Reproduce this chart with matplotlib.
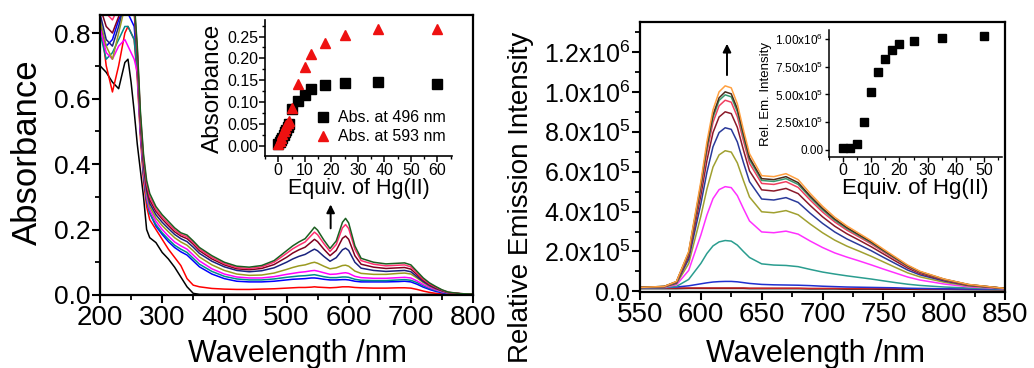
import matplotlib
matplotlib.use("Agg")
import matplotlib.pyplot as plt
from matplotlib.ticker import MultipleLocator, FixedLocator, FormatStrFormatter

plt.rcParams['font.family'] = ['Liberation Sans', 'DejaVu Sans']
plt.rcParams['mathtext.fontset'] = 'custom'
plt.rcParams['mathtext.rm'] = 'Liberation Sans'
plt.rcParams['mathtext.it'] = 'Liberation Sans'

# ---------------- Left: absorption spectra ----------------
wl_abs = [200, 210, 220, 230, 240, 245, 250, 255, 260, 265, 270, 275, 280, 290, 300,
          310, 320, 330, 340, 350, 360, 380, 400, 420, 440, 460, 480, 500, 510, 520,
          530, 540, 545, 550, 560, 570, 580, 590, 595, 600, 610, 620, 640, 660, 680,
          690, 700, 710, 720, 730, 740, 750, 760, 780, 800]

abs_black = [0.70, 0.68, 0.65, 0.63, 0.71, 0.72, 0.65, 0.56, 0.46, 0.38, 0.30, 0.20, 0.175, 0.16, 0.13,
             0.11, 0.085, 0.055, 0.025, 0.005, 0.002, 0.002, 0.002, 0.002, 0.002, 0.002, 0.002, 0.002, 0.002, 0.002,
             0.002, 0.002, 0.002, 0.002, 0.002, 0.002, 0.002, 0.002, 0.002, 0.002, 0.002, 0.002, 0.002, 0.002, 0.002,
             0.002, 0.002, 0.002, 0.002, 0.002, 0.002, 0.002, 0.002, 0.002, 0.002]
abs_red = [0.85, 0.70, 0.62, 0.70, 0.80, 0.82, 0.80, 0.78, 0.66, 0.48, 0.35, 0.27, 0.23, 0.20, 0.17,
           0.14, 0.115, 0.09, 0.05, 0.03, 0.025, 0.02, 0.018, 0.017, 0.017, 0.018, 0.019, 0.021, 0.022, 0.023,
           0.023, 0.024, 0.025, 0.024, 0.023, 0.022, 0.023, 0.025, 0.025, 0.025, 0.023, 0.022, 0.021, 0.021, 0.022,
           0.022, 0.021, 0.017, 0.012, 0.008, 0.005, 0.003, 0.002, 0.001, 0.001]
abs_blue = [0.82, 0.76, 0.78, 0.84, 0.88, 0.86, 0.84, 0.82, 0.70, 0.50, 0.37, 0.29, 0.25, 0.21, 0.185,
            0.163, 0.145, 0.132, 0.122, 0.104, 0.086, 0.064, 0.05, 0.042, 0.04, 0.04, 0.042, 0.046, 0.048, 0.049,
            0.05, 0.052, 0.052, 0.051, 0.048, 0.046, 0.046, 0.047, 0.047, 0.046, 0.042, 0.04, 0.04, 0.04, 0.041,
            0.042, 0.04, 0.033, 0.024, 0.017, 0.011, 0.007, 0.004, 0.003, 0.002]
abs_cyan = [0.80, 0.72, 0.74, 0.78, 0.82, 0.82, 0.80, 0.78, 0.68, 0.50, 0.37, 0.29, 0.25, 0.215, 0.19,
            0.17, 0.152, 0.14, 0.13, 0.112, 0.094, 0.072, 0.057, 0.049, 0.046, 0.046, 0.049, 0.054, 0.056, 0.058,
            0.059, 0.061, 0.062, 0.06, 0.056, 0.053, 0.053, 0.055, 0.055, 0.054, 0.048, 0.045, 0.044, 0.044, 0.046,
            0.047, 0.045, 0.038, 0.028, 0.02, 0.014, 0.009, 0.005, 0.003, 0.002]
abs_magenta = [0.82, 0.74, 0.72, 0.76, 0.78, 0.76, 0.74, 0.72, 0.68, 0.50, 0.38, 0.30, 0.26, 0.225, 0.20,
               0.18, 0.162, 0.15, 0.14, 0.122, 0.104, 0.08, 0.064, 0.055, 0.052, 0.052, 0.056, 0.063, 0.066, 0.069,
               0.071, 0.074, 0.075, 0.073, 0.068, 0.063, 0.064, 0.067, 0.068, 0.066, 0.057, 0.053, 0.051, 0.051, 0.053,
               0.054, 0.052, 0.043, 0.032, 0.023, 0.016, 0.01, 0.006, 0.003, 0.002]
abs_olive = [0.84, 0.76, 0.72, 0.80, 0.88, 0.92, 0.90, 0.86, 0.72, 0.52, 0.39, 0.31, 0.27, 0.235, 0.212,
             0.193, 0.175, 0.162, 0.152, 0.135, 0.116, 0.092, 0.075, 0.064, 0.06, 0.061, 0.067, 0.078, 0.084, 0.089,
             0.092, 0.098, 0.10, 0.097, 0.088, 0.08, 0.083, 0.09, 0.091, 0.088, 0.073, 0.066, 0.063, 0.063, 0.066,
             0.067, 0.064, 0.052, 0.038, 0.027, 0.019, 0.012, 0.007, 0.004, 0.003]
abs_navy = [0.86, 0.78, 0.76, 0.82, 0.90, 0.93, 0.91, 0.87, 0.73, 0.53, 0.40, 0.32, 0.28, 0.245, 0.222,
            0.203, 0.185, 0.172, 0.163, 0.146, 0.127, 0.103, 0.086, 0.075, 0.071, 0.074, 0.083, 0.10, 0.11, 0.118,
            0.124, 0.135, 0.14, 0.135, 0.118, 0.103, 0.114, 0.138, 0.143, 0.136, 0.10, 0.082, 0.075, 0.072, 0.074,
            0.075, 0.071, 0.056, 0.041, 0.029, 0.02, 0.013, 0.007, 0.004, 0.003]
abs_wine = [0.88, 0.82, 0.80, 0.85, 0.93, 0.95, 0.92, 0.88, 0.74, 0.54, 0.41, 0.33, 0.29, 0.255, 0.232,
            0.212, 0.193, 0.18, 0.172, 0.155, 0.135, 0.11, 0.092, 0.08, 0.077, 0.081, 0.093, 0.115, 0.128, 0.138,
            0.146, 0.162, 0.17, 0.163, 0.14, 0.12, 0.136, 0.173, 0.18, 0.17, 0.12, 0.094, 0.085, 0.081, 0.083,
            0.084, 0.079, 0.062, 0.045, 0.032, 0.022, 0.014, 0.008, 0.004, 0.003]
abs_pink = [0.90, 0.86, 0.84, 0.88, 0.95, 0.96, 0.93, 0.89, 0.75, 0.55, 0.42, 0.34, 0.30, 0.262, 0.238,
            0.218, 0.199, 0.185, 0.178, 0.16, 0.14, 0.115, 0.096, 0.084, 0.081, 0.086, 0.10, 0.127, 0.141, 0.152,
            0.162, 0.182, 0.192, 0.184, 0.157, 0.133, 0.154, 0.205, 0.215, 0.203, 0.14, 0.105, 0.094, 0.089, 0.091,
            0.092, 0.086, 0.067, 0.048, 0.034, 0.024, 0.015, 0.008, 0.004, 0.003]
abs_green = [0.92, 0.90, 0.89, 0.92, 0.96, 0.96, 0.94, 0.90, 0.76, 0.56, 0.43, 0.35, 0.31, 0.27, 0.245,
             0.225, 0.205, 0.19, 0.183, 0.165, 0.145, 0.12, 0.10, 0.088, 0.085, 0.09, 0.105, 0.135, 0.15, 0.162,
             0.172, 0.195, 0.207, 0.198, 0.168, 0.142, 0.165, 0.222, 0.234, 0.22, 0.15, 0.112, 0.10, 0.095, 0.097,
             0.098, 0.092, 0.072, 0.052, 0.037, 0.026, 0.016, 0.009, 0.004, 0.003]

abs_series = [abs_black, abs_red, abs_blue, abs_cyan, abs_magenta, abs_olive,
              abs_navy, abs_wine, abs_pink, abs_green]
abs_colors = ['#000000', '#ff0000', '#0000ff', '#008b8b', '#ff00ff', '#9a9a20',
              '#1a237e', '#800020', '#ff3070', '#1b5e20']

# Left inset: absorbance vs equivalents
eq_abs = [0, 0.5, 1, 1.5, 2, 2.5, 3, 3.5, 4, 5, 7.5, 10, 12.5, 17.5, 25, 37.5, 60]
abs496 = [0.003, 0.008, 0.013, 0.018, 0.024, 0.03, 0.036, 0.043, 0.05, 0.083, 0.103,
          0.116, 0.13, 0.139, 0.144, 0.146, 0.141]
abs593 = [0.003, 0.01, 0.018, 0.026, 0.033, 0.04, 0.046, 0.052, 0.057, 0.086, 0.141,
          0.18, 0.21, 0.235, 0.253, 0.268, 0.268]

# ---------------- Right: emission spectra (units of 1e6) ----------------
wl_em = [550, 570, 580, 590, 600, 605, 610, 615, 620, 625, 630, 635, 640, 650, 660,
         670, 680, 690, 700, 710, 720, 730, 740, 750, 760, 770, 780, 800, 820, 850]

em_black = [0.014, 0.014, 0.014, 0.015, 0.015, 0.015, 0.015, 0.015, 0.015, 0.015, 0.015, 0.015, 0.014, 0.014, 0.014,
            0.014, 0.014, 0.013, 0.013, 0.013, 0.012, 0.012, 0.012, 0.011, 0.011, 0.011, 0.01, 0.01, 0.009, 0.008]
em_red = [0.016, 0.016, 0.017, 0.017, 0.017, 0.017, 0.017, 0.017, 0.017, 0.017, 0.017, 0.017, 0.016, 0.016, 0.016,
          0.016, 0.016, 0.015, 0.015, 0.015, 0.014, 0.014, 0.014, 0.013, 0.013, 0.013, 0.012, 0.012, 0.011, 0.01]
em_blue = [0.018, 0.019, 0.022, 0.028, 0.038, 0.043, 0.047, 0.049, 0.05, 0.05, 0.048, 0.044, 0.04, 0.035, 0.033,
           0.032, 0.031, 0.029, 0.026, 0.024, 0.022, 0.021, 0.02, 0.019, 0.018, 0.016, 0.015, 0.013, 0.012, 0.011]
em_cyan = [0.018, 0.019, 0.025, 0.06, 0.14, 0.19, 0.228, 0.248, 0.255, 0.252, 0.232, 0.20, 0.17, 0.138, 0.132,
           0.13, 0.124, 0.11, 0.097, 0.087, 0.078, 0.07, 0.062, 0.053, 0.044, 0.036, 0.03, 0.022, 0.017, 0.012]
em_magenta = [0.02, 0.021, 0.033, 0.105, 0.282, 0.383, 0.465, 0.51, 0.525, 0.52, 0.48, 0.415, 0.353, 0.298, 0.294,
              0.302, 0.287, 0.252, 0.22, 0.193, 0.172, 0.153, 0.133, 0.112, 0.092, 0.072, 0.057, 0.037, 0.023, 0.013]
em_olive = [0.02, 0.022, 0.038, 0.139, 0.377, 0.513, 0.623, 0.684, 0.705, 0.698, 0.644, 0.556, 0.473, 0.399, 0.394,
            0.405, 0.384, 0.337, 0.294, 0.257, 0.227, 0.202, 0.176, 0.148, 0.12, 0.093, 0.073, 0.046, 0.027, 0.014]
em_navy = [0.02, 0.023, 0.042, 0.161, 0.438, 0.597, 0.725, 0.796, 0.82, 0.812, 0.749, 0.646, 0.55, 0.463, 0.458,
           0.47, 0.446, 0.391, 0.341, 0.298, 0.263, 0.234, 0.204, 0.171, 0.139, 0.107, 0.083, 0.052, 0.03, 0.015]
em_wine = [0.02, 0.024, 0.045, 0.176, 0.481, 0.656, 0.796, 0.874, 0.90, 0.891, 0.822, 0.709, 0.604, 0.509, 0.503,
           0.516, 0.49, 0.43, 0.374, 0.327, 0.289, 0.257, 0.224, 0.188, 0.152, 0.117, 0.09, 0.056, 0.031, 0.015]
em_pink = [0.02, 0.024, 0.047, 0.187, 0.512, 0.698, 0.847, 0.93, 0.958, 0.948, 0.875, 0.755, 0.642, 0.541, 0.536,
           0.55, 0.521, 0.457, 0.398, 0.348, 0.307, 0.273, 0.238, 0.199, 0.161, 0.124, 0.095, 0.059, 0.033, 0.015]
em_teal = [0.02, 0.025, 0.048, 0.192, 0.527, 0.718, 0.871, 0.957, 0.985, 0.975, 0.90, 0.776, 0.66, 0.556, 0.551,
           0.565, 0.536, 0.47, 0.409, 0.357, 0.315, 0.28, 0.244, 0.204, 0.165, 0.127, 0.098, 0.06, 0.034, 0.015]
em_dark = [0.02, 0.025, 0.049, 0.195, 0.535, 0.73, 0.885, 0.97, 1.0, 0.99, 0.915, 0.79, 0.67, 0.565, 0.56,
           0.575, 0.545, 0.477, 0.416, 0.363, 0.32, 0.284, 0.248, 0.207, 0.168, 0.129, 0.099, 0.061, 0.034, 0.015]
em_orange = [0.02, 0.025, 0.05, 0.20, 0.55, 0.75, 0.91, 1.0, 1.03, 1.02, 0.94, 0.81, 0.69, 0.58, 0.575,
             0.59, 0.56, 0.49, 0.427, 0.372, 0.328, 0.291, 0.254, 0.212, 0.172, 0.132, 0.101, 0.062, 0.035, 0.015]

em_series = [em_black, em_red, em_blue, em_cyan, em_magenta, em_olive, em_navy,
             em_wine, em_pink, em_teal, em_dark, em_orange]
em_colors = ['#000000', '#cc2222', '#2030d0', '#2a9d8f', '#ff30ff', '#a0a030', '#2a3a9a',
             '#8b1a2a', '#f04060', '#3a9a70', '#4a2a1a', '#ffa040']
em_scale = 1e6

# Right inset: relative emission vs equivalents
eq_em = [0, 2.5, 5, 7.5, 10, 12.5, 15, 17.5, 20, 25, 35, 50]
rel_em = [0.015e6, 0.015e6, 0.05e6, 0.25e6, 0.525e6, 0.705e6, 0.82e6, 0.90e6,
          0.958e6, 0.985e6, 1.006e6, 1.03e6]

# ---------------- Figure ----------------
W, H = 1034, 368
fig = plt.figure(figsize=(W / 100, H / 100), dpi=100)


def frac(x0, y0, x1, y1):
    return [x0 / W, 1 - y1 / H, (x1 - x0) / W, (y1 - y0) / H]


def style_main(ax):
    for s in ax.spines.values():
        s.set_linewidth(1.6)
    ax.tick_params(which='major', direction='out', length=6, width=1.5, labelsize=20,
                   top=False, right=False, pad=1)
    ax.tick_params(which='minor', direction='out', length=3.5, width=1.3, top=False, right=False)


# Left main
axL = fig.add_axes(frac(100, 15, 473, 295))
for y, c in zip(abs_series, abs_colors):
    axL.plot(wl_abs, y, color=c, lw=1.1)
axL.set_xlim(200, 800)
axL.set_ylim(0, 0.855)
axL.xaxis.set_major_locator(MultipleLocator(100))
axL.xaxis.set_minor_locator(MultipleLocator(50))
axL.yaxis.set_major_locator(MultipleLocator(0.2))
axL.yaxis.set_minor_locator(MultipleLocator(0.1))
axL.yaxis.set_major_formatter(FormatStrFormatter('%.1f'))
style_main(axL)
axL.tick_params(axis='y', labelsize=19)
fig.text(297 / W, 1 - 362 / H, 'Wavelength /nm', fontsize=22, ha='center', va='baseline')
fig.text(27 / W, 1 - 152 / H, 'Absorbance', fontsize=25, ha='center', va='center', rotation=90)
axL.annotate('', xy=(571, 0.285), xytext=(571, 0.195),
             arrowprops=dict(arrowstyle='-|>', color='black', lw=1.4, mutation_scale=12))

# Left inset
axLi = fig.add_axes(frac(265, 20, 452, 156))
axLi.plot(eq_abs, abs496, 's', color='black', ms=6.5, label='Abs. at 496 nm')
axLi.plot(eq_abs, abs593, '^', color='#ee1111', ms=7.5, label='Abs. at 593 nm')
axLi.set_xlim(-5, 65.5)
axLi.set_ylim(-0.024, 0.288)
axLi.xaxis.set_major_locator(MultipleLocator(10))
axLi.xaxis.set_minor_locator(MultipleLocator(5))
axLi.yaxis.set_major_locator(MultipleLocator(0.05))
axLi.yaxis.set_minor_locator(MultipleLocator(0.025))
axLi.yaxis.set_major_formatter(FormatStrFormatter('%.2f'))
axLi.spines['top'].set_visible(False)
axLi.spines['right'].set_visible(False)
for s in ('left', 'bottom'):
    axLi.spines[s].set_linewidth(1.2)
axLi.tick_params(which='major', direction='out', length=4, width=1.1, labelsize=11.5, pad=1)
axLi.tick_params(which='minor', direction='out', length=2.5, width=1.0)
axLi.set_xlabel('Equiv. of Hg(II)', fontsize=15.5, labelpad=0)
axLi.set_ylabel('Absorbance', fontsize=17.5, labelpad=2)
axLi.patch.set_alpha(0)
axLi.legend(loc='lower right', fontsize=11.5, frameon=False, handletextpad=0.3,
            borderaxespad=0.0, labelspacing=0.25, handlelength=1.2,
            bbox_to_anchor=(1.0, 0.04))

# Right main
axR = fig.add_axes(frac(640, 22, 1005, 292))
for y, c in zip(em_series, em_colors):
    axR.plot(wl_em, [v * em_scale for v in y], color=c, lw=1.1)
axR.set_xlim(550, 850)
axR.set_ylim(-0.003e6, 1.35e6)
axR.xaxis.set_major_locator(MultipleLocator(50))
axR.xaxis.set_minor_locator(MultipleLocator(25))
axR.yaxis.set_major_locator(FixedLocator([0, 0.2e6, 0.4e6, 0.6e6, 0.8e6, 1.0e6, 1.2e6]))
axR.yaxis.set_minor_locator(MultipleLocator(0.1e6))
axR.set_yticklabels(['0.0', r'2.0x10$^5$', r'4.0x10$^5$', r'6.0x10$^5$', r'8.0x10$^5$',
                     r'1.0x10$^6$', r'1.2x10$^6$'])
style_main(axR)
axR.tick_params(axis='y', labelsize=18)
fig.text(815 / W, 1 - 362 / H, 'Wavelength /nm', fontsize=22, ha='center', va='baseline')
fig.text(521 / W, 1 - 197 / H, 'Relative Emission Intensity', fontsize=20,
         ha='center', va='center', rotation=90)
axR.annotate('', xy=(621.5, 1.255e6), xytext=(621.5, 1.07e6),
             arrowprops=dict(arrowstyle='-|>', color='black', lw=1.4, mutation_scale=12))

# Right inset
axRi = fig.add_axes(frac(829, 30, 1002, 157))
axRi.plot(eq_em, rel_em, 's', color='black', ms=5.5)
axRi.set_xlim(-5, 56.4)
axRi.set_ylim(-0.063e6, 1.08e6)
axRi.xaxis.set_major_locator(MultipleLocator(10))
axRi.xaxis.set_minor_locator(MultipleLocator(5))
axRi.yaxis.set_major_locator(FixedLocator([0, 0.25e6, 0.5e6, 0.75e6, 1.0e6]))
axRi.set_yticklabels(['0.00', r'2.50x10$^5$', r'5.00x10$^5$', r'7.50x10$^5$', r'1.00x10$^6$'])
axRi.spines['top'].set_visible(False)
axRi.spines['right'].set_visible(False)
for s in ('left', 'bottom'):
    axRi.spines[s].set_linewidth(1.1)
axRi.tick_params(axis='y', which='major', direction='out', length=3, width=1.0, labelsize=8.5, pad=1)
axRi.tick_params(axis='x', which='major', direction='out', length=3.5, width=1.0, labelsize=11.5, pad=1)
axRi.tick_params(which='minor', direction='out', length=2, width=0.9)
axRi.set_xlabel('Equiv. of Hg(II)', fontsize=16, labelpad=0)
axRi.set_ylabel('Rel. Em. Intensity', fontsize=9.5, labelpad=2)
axRi.patch.set_alpha(0)

fig.savefig('out.png', dpi=100)
